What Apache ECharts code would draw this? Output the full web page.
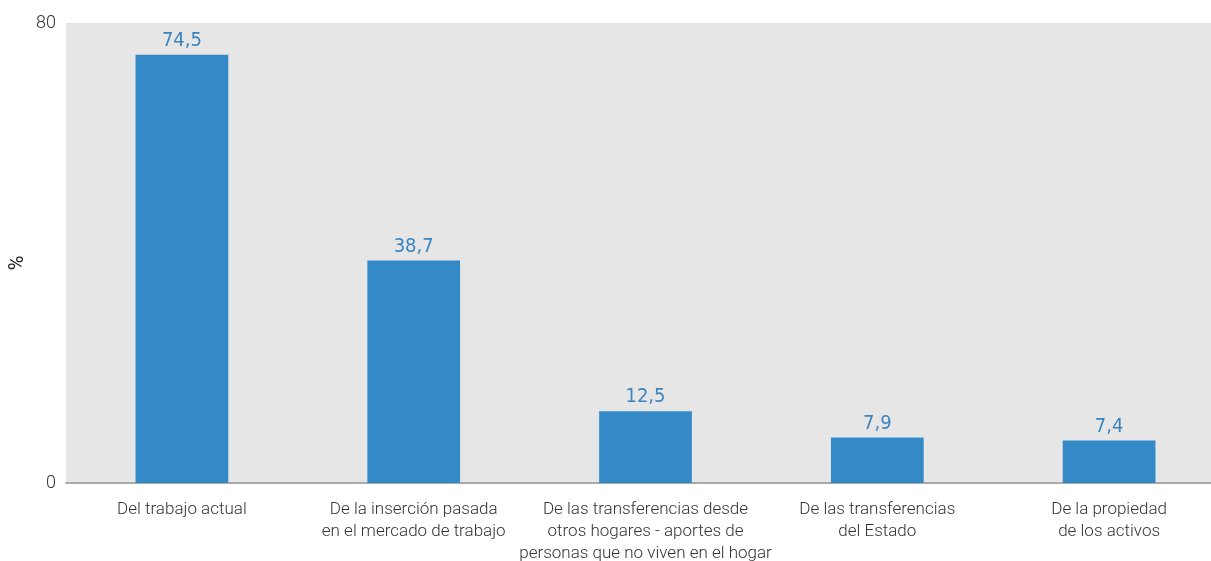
<!DOCTYPE html>
<html>
<head>
<meta charset="utf-8">
<script src="https://cdn.jsdelivr.net/npm/echarts@6/dist/echarts.min.js"></script>
<style>
  html, body { margin: 0; padding: 0; background: #fff; }
  #main { width: 1211px; height: 561px; }
</style>
</head>
<body>
<div id="main"></div>
<script>
var categories = [
    'Del trabajo actual',
    'De la inserción pasada\nen el mercado de trabajo',
    'De las transferencias desde\notros hogares - aportes de\npersonas que no viven en el hogar',
    'De las transferencias\ndel Estado',
    'De la propiedad\nde los activos'
];
var values = [74.5, 38.7, 12.5, 7.9, 7.4];
var yTicks = [0, 80];

var myChart = echarts.init(document.getElementById('main'));
var option = {
    animation: false,
    grid: {
        left: 66,
        right: -14,
        top: 23,
        bottom: 78,
        outerBoundsMode: 'none',
        show: true,
        backgroundColor: '#e6e6e6',
        borderWidth: 0
    },
    xAxis: {
        type: 'category',
        data: categories,
        axisLine: { show: true, lineStyle: { color: '#aaaaaa', width: 2 } },
        axisTick: { show: false },
        axisLabel: {
            interval: 0,
            margin: 16,
            color: '#333333',
            fontSize: 17,
            fontWeight: 300,
            lineHeight: 22,
            fontFamily: 'Roboto, Lato, sans-serif'
        }
    },
    yAxis: {
        type: 'value',
        min: yTicks[0],
        max: yTicks[1],
        interval: 80,
        name: '%',
        nameLocation: 'middle',
        nameGap: 38,
        nameRotate: 90,
        nameMoveOverlap: false,
        nameTextStyle: {
            color: '#222222',
            fontSize: 20,
            fontFamily: 'Roboto, sans-serif',
            padding: [0, 20, 0, 0]
        },
        splitLine: { show: false },
        axisLine: { show: false },
        axisTick: { show: false },
        axisLabel: {
            margin: 10,
            color: '#333333',
            fontSize: 18,
            fontWeight: 300,
            fontFamily: 'Roboto, Lato, sans-serif'
        }
    },
    series: [
        {
            type: 'bar',
            data: values,
            barWidth: '40%',
            itemStyle: { color: '#348ac7' },
            label: {
                show: true,
                position: 'top',
                distance: 4,
                color: '#3a84bf',
                fontSize: 20,
                fontFamily: '"DejaVu Sans Condensed", "Liberation Sans Narrow", sans-serif',
                formatter: function (p) {
                    return p.value.toFixed(1).replace('.', ',');
                }
            }
        }
    ]
};
myChart.setOption(option);
</script>
</body>
</html>
